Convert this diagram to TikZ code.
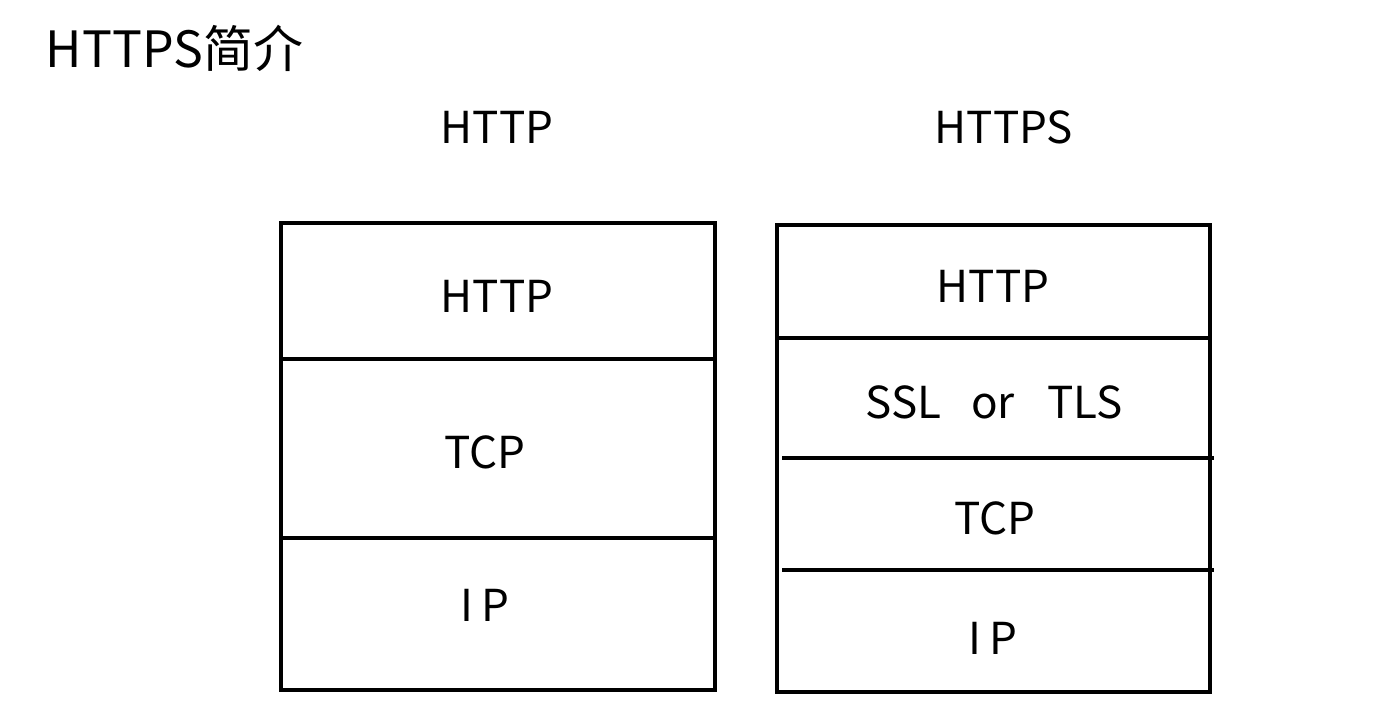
\documentclass[tikz,border=0pt]{standalone}
\usepackage{fontspec}
\setmainfont{Noto Sans CJK SC}
\usetikzlibrary{calc}

\begin{document}
\begin{tikzpicture} [x=.5pt, y=-.5pt, line width=1.8pt,
  lbl/.style={font=\fontsize{22}{26}\selectfont, inner sep=0pt}]
\useasboundingbox (0,0) rectangle (1383,703);

\node[anchor=west, inner sep=0pt, font=\fontsize{25}{30}\selectfont] (title) at (44,48) {HTTPS简介};
\node[lbl] (headA) at (497,127) {HTTP};
\node[lbl] (headB) at (1004,127) {HTTPS};

% left stack
\draw (281,223) rectangle (715,690);
\foreach \y in {359,538} \draw (281,\y) -- (715,\y);
\node[lbl] (httpA) at (497,296) {HTTP};
\node[lbl] (tcpA) at (485,452) {TCP};
\node[lbl] (ipA) at (485,605) {I\,P};

% right stack
\draw (777,225) rectangle (1210,692);
\draw (777,338) -- (1210,338);
\foreach \y in {458,570} \draw (782,\y) -- (1214,\y);
\node[lbl] (httpB) at (993,286) {HTTP};
\node[lbl] (sslB) at (994,402) {SSL\hspace{15pt}or\hspace{16pt}TLS};
\node[lbl] (tcpB) at (995,518) {TCP};
\node[lbl] (ipB) at (993,638) {I\,P};

\end{tikzpicture}
\end{document}
